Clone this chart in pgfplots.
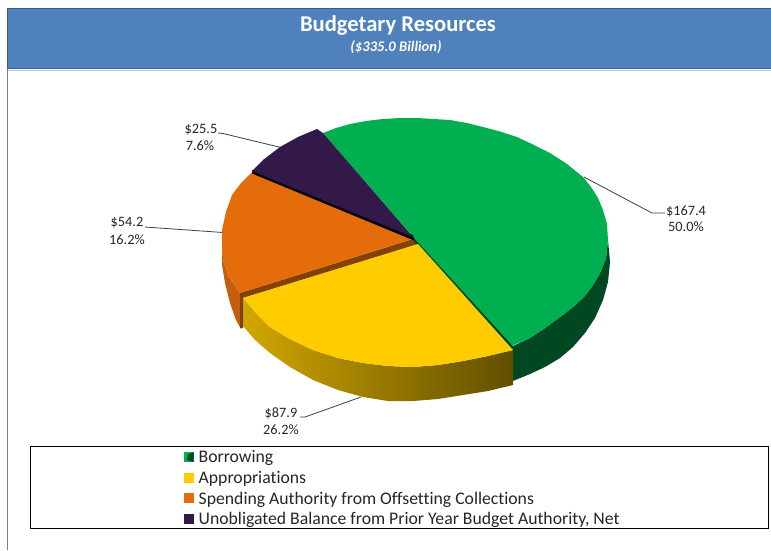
\documentclass[border=0pt]{standalone}
\usepackage{pgfplots}
\pgfplotsset{compat=1.18}
\usepackage{fontspec}
\setmainfont[Ligatures=NoCommon]{Carlito}
\definecolor{headblue}{RGB}{79,129,189}
\definecolor{headline}{RGB}{56,93,138}
\definecolor{greenT}{RGB}{0,176,80}
\definecolor{greenS}{RGB}{0,72,34}
\definecolor{yellowT}{RGB}{255,204,0}
\definecolor{orangeT}{RGB}{228,108,10}
\definecolor{orangeS}{RGB}{196,94,14}
\definecolor{brownS}{RGB}{130,66,6}
\definecolor{purpleT}{RGB}{51,24,74}
\definecolor{labeltext}{RGB}{38,38,38}
\pgfplotsset{
  swatch/.style={legend image code/.code={
    \fill[##1] (0pt,-4.5pt) rectangle (10pt,5.5pt);}},
  swatchB/.style={legend image code/.code={
    \fill[greenT] (0pt,-4.5pt) rectangle (10pt,5.5pt);
    \fill[greenS] (10pt,-4.5pt) -- (10pt,5.5pt) -- (4pt,3pt) -- (3.5pt,-2.5pt) -- cycle;}},
}
\begin{document}
\begin{tikzpicture}
\begin{axis}[
  width=771pt, height=550pt, scale only axis,
  xmin=0, xmax=771, ymin=0, ymax=550, y dir=reverse,
  axis lines=none,
  legend cell align=left,
  legend style={draw=none, fill=none, at={(axis cs:182,447)}, anchor=north west,
    inner sep=1.5pt, row sep=2.9pt, font=\fontsize{17.7}{20}\selectfont,
    text=labeltext, /tikz/every odd column/.append style={column sep=3pt}},
]
% page background fixes the picture's extent
\addplot[forget plot, fill=white, draw=none] coordinates {(0,0) (771,0) (771,550) (0,550)} -- cycle;

% frame and header band
\addplot[forget plot, draw=black!50, line width=0.8pt] coordinates {(7.5,68) (7.5,550)};
\addplot[forget plot, fill=headblue, draw=headline, line width=1pt] coordinates {(7.5,8) (775,8) (775,68.5) (7.5,68.5)} -- cycle;
\addplot[forget plot, draw=headblue!45, line width=0.8pt] coordinates {(8,70) (771,70)};

% leader lines
\addplot[forget plot, draw=black!75, line width=0.8pt] coordinates {(218,133) (223,133.5) (281,147.5)};
\addplot[forget plot, draw=black!75, line width=0.8pt] coordinates {(145,227) (223,232.5)};
\addplot[forget plot, draw=black!75, line width=0.8pt] coordinates {(584,177) (652,213) (665,213)};
\addplot[forget plot, draw=black!75, line width=0.8pt] coordinates {(300,417) (305,417) (361,397)};

% pie walls
\addplot[forget plot, fill=greenS, draw=none] coordinates {
  (513,346) (530,338) (545,328) (560,317) (573,307) (584,297) (593,285) (600,273) (606,258) (608,240)
  (610,262) (608,282) (603,300) (595,318) (585,333) (573,347) (560,358) (545,367) (530,374) (513,381)} -- cycle;
\addplot[forget plot, fill=greenS, draw=none] coordinates {(412,236) (419,240) (513,346) (513,351) (415,246)} -- cycle;
\addplot[forget plot, left color=yellowT!82!black, middle color=yellowT!58!black, right color=yellowT!38!black, draw=none] coordinates {
  (243,298) (256,313) (270,327) (290,339) (313,350) (338,358) (363,363) (388,366) (413,367) (438,365) (463,361) (488,356) (513,350)
  (513,385) (488,391) (463,395) (438,399) (413,401) (388,401) (363,397) (338,390) (313,380) (290,367) (270,353) (255,340) (243,326)} -- cycle;
\addplot[forget plot, fill=orangeS, draw=none] coordinates {
  (222,240) (222,265) (225,283) (230,303) (236,320) (241,329) (243,300) (240,293) (229,277) (223,260)} -- cycle;
\addplot[forget plot, fill=brownS, draw=none] coordinates {(240,293) (413,239) (416,245) (243,298) (243,328) (240,328)} -- cycle;

% pie tops, one for each budget line
\addplot[swatchB, fill=greenT, draw=none] coordinates {
  (415,239) (323,133) (336,128) (350,124) (366,121) (383,119) (400,118) (417,118) (434,119) (450,120)
  (467,123) (483,127) (500,131.5) (517,137) (534,145) (550,153) (567,164) (583,177) (591,187) (598,198)
  (603,210) (607,224) (608,240) (606,258) (600,273) (593,285) (584,297) (573,307) (560,317) (545,328) (530,338) (512.5,345.5)} -- cycle;
\addlegendentry{Borrowing}
\addplot[swatch, fill=yellowT, draw=none] coordinates {
  (418,244) (243,298) (256,313) (270,327) (290,339) (313,350) (338,358) (363,363) (388,366) (413,367) (438,365) (463,361) (488,356) (513,350)} -- cycle;
\addlegendentry{Appropriations}
\addplot[swatch, fill=orangeT, draw=none] coordinates {
  (413,239) (252,172) (241,183) (232,195) (226,212) (222,230) (222,246) (223,260) (229,277) (240,293)} -- cycle;
\addlegendentry{Spending Authority from Offsetting Collections}
\addplot[forget plot, fill=black!85!purpleT, draw=none] coordinates {(252,170) (413,235) (414,240.5) (252,173.5)} -- cycle;
\addplot[swatch, fill=purpleT, draw=none] coordinates {
  (413,237) (252,171) (263,160) (280,147) (298,137) (317,129) (323,133)} -- cycle;
\addlegendentry{Unobligated Balance from Prior Year Budget Authority, Net}

% legend frame
\addplot[forget plot, draw=black, line width=1pt] coordinates {(30.5,446.5) (768,446.5) (768,528) (30.5,528)} -- cycle;

% header text
\node[text=white, font=\bfseries\fontsize{22.6}{26}\selectfont] at (axis cs:398,25) {Budgetary Resources};
\node[text=white, font=\bfseries\itshape\fontsize{14.6}{17}\selectfont] at (axis cs:396,47) {(\$335.0 Billion)};

% slice labels
\begin{scope}[every node/.style={text=labeltext, font=\fontsize{14.3}{16}\selectfont}]
\node at (axis cs:201,130) {\$25.5};
\node at (axis cs:200,146) {7.6\%};
\node at (axis cs:127,223) {\$54.2};
\node at (axis cs:127,240) {16.2\%};
\node at (axis cs:686,211) {\$167.4};
\node at (axis cs:686,227) {50.0\%};
\node at (axis cs:281,413) {\$87.9};
\node at (axis cs:281,430) {26.2\%};
\end{scope}
\end{axis}
\end{tikzpicture}
\end{document}
